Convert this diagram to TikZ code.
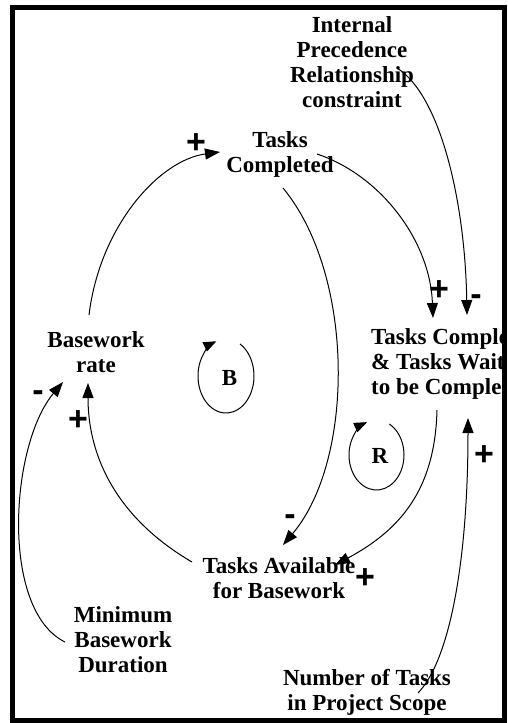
\documentclass[tikz,border=0pt]{standalone}
\usepackage{fontspec}
\setmainfont{Liberation Serif}
\newfontfamily\signfont{Liberation Sans}
\usetikzlibrary{arrows.meta,positioning}
\tikzset{
    var/.style={align=center,font=\fontsize{23}{25}\selectfont\bfseries,inner sep=0pt},
    loopname/.style={font=\fontsize{23}{25}\selectfont\bfseries,inner sep=0pt},
    sign/.style={font=\signfont\fontsize{34}{34}\selectfont\bfseries,inner sep=0pt},
    link/.style={->,line width=1pt,>={Triangle[length=15pt,width=11pt]}},
    looparc/.style={->,line width=1pt,>={Triangle[length=13pt,width=10pt]}}
}

\begin{document}
\begin{tikzpicture}[x=1pt,y=-1pt]
    \useasboundingbox (0,0) rectangle (508,723);

    % variables
    \node[var] (prec)   at (352,62)  {Internal\\Precedence\\Relationship\\constraint};
    \node[var] (done)   at (280,154) {Tasks\\Completed};
    \node[var] (rate)   at (96,352)  {Basework\\rate};
    \node[var] (avail)  at (279,578) {Tasks Available\\for Basework};
    \node[var] (mindur) at (123,640) {Minimum\\Basework\\Duration};
    \node[var] (scope)  at (367,692) {Number of Tasks\\in Project Scope};
    \begin{scope}
        \clip (12,7) rectangle (502,720);
        \node[var,align=left,anchor=west] (wait) at (371,364) {Tasks Comple\\\& Tasks Wait\\to be Comple};
    \end{scope}

    % causal links
    \draw[link] ([shift={(-7,-37)}]rate.center) .. controls +(11,-90) and +(-60,8) .. ([shift={(-60,-2)}]done.center);
    \draw[link] ([shift={(37,0)}]done.center) .. controls +(63,21) and +(-3,-78) .. ([shift={(62,-46)}]wait.west);
    \draw[link] ([shift={(45,6)}]prec.center) .. controls +(43,27) and +(-2,-115) .. ([shift={(96,-49)}]wait.west);
    \draw[link] ([shift={(3,34)}]done.center) .. controls +(72,87) and +(72,-85) .. ([shift={(4,-33)}]avail.center);
    \draw[link] ([shift={(-87,-16)}]avail.center) .. controls +(-72,-42) and +(0,77) .. ([shift={(-8,31)}]rate.center);
    \draw[link] ([shift={(-58,2)}]mindur.center) .. controls +(-65,-32) and +(-53,63) .. ([shift={(-33,30)}]rate.center);
    \draw[link] ([shift={(66,46)}]wait.west) .. controls +(-2,80) and +(65,-35) .. ([shift={(56,-13)}]avail.center);
    \draw[link] ([shift={(51,1)}]scope.center) .. controls +(32,-33) and +(0,142) .. ([shift={(97,54)}]wait.west);

    % polarities
    \node[sign] (s1) at (196,144) {+};
    \node[sign] (s2) at (439,291) {+};
    \node[sign] (s3) at (476,300) {-};
    \node[sign] (s4) at (38,396)  {-};
    \node[sign] (s5) at (78,421)  {+};
    \node[sign] (s6) at (484,456) {+};
    \node[sign] (s7) at (290,520) {-};
    \node[sign] (s8) at (365,579) {+};

    % loop markers
    \node[loopname] (bal) at (229.5,377.5) {B};
    \draw[looparc] ([shift={(-3.5,-1.5)}]bal.center) ++(-60:28 and 37)
        arc[start angle=-60,end angle=250,x radius=28,y radius=37];
    \node[loopname] (rein) at (380,456) {R};
    \draw[looparc] ([shift={(-3.5,-1)}]rein.center) ++(-62:27.5 and 35)
        arc[start angle=-62,end angle=250,x radius=27.5,y radius=35];

    % frame
    \draw[line width=5pt] (12,7.5) rectangle (504.5,720.5);
\end{tikzpicture}
\end{document}
